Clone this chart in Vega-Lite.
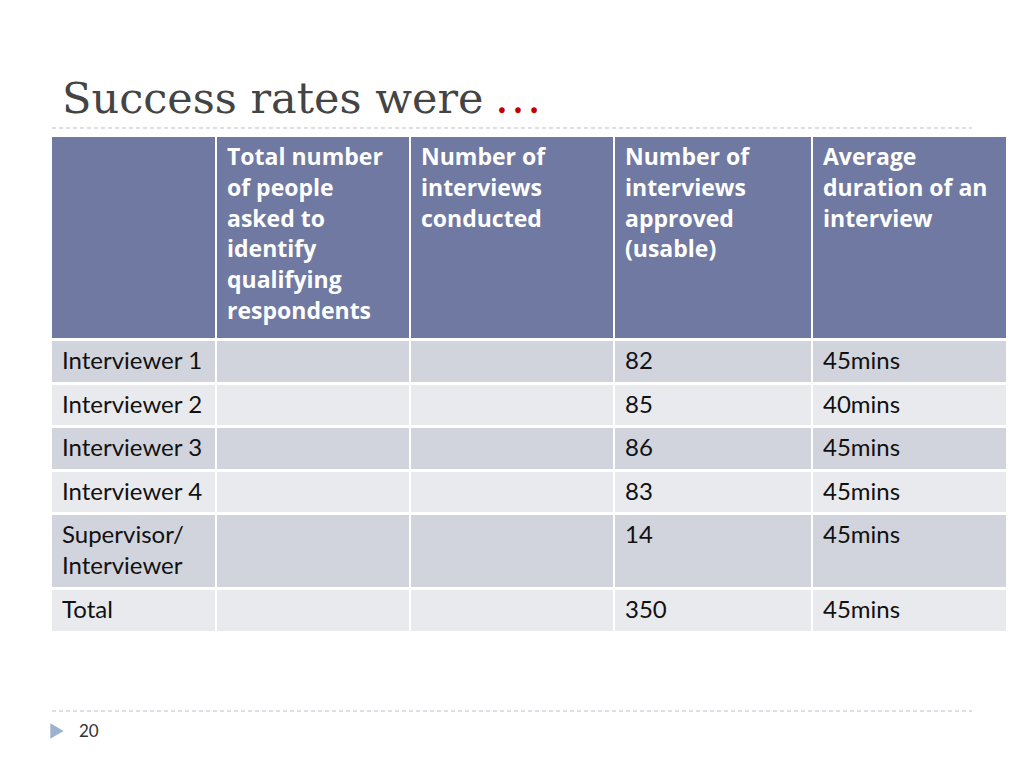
{
  "$schema": "https://vega.github.io/schema/vega-lite/v6.json",
  "width": 1024,
  "height": 768,
  "autosize": {"type": "fit", "contains": "padding"},
  "padding": 0,
  "background": "#ffffff",
  "config": {"view": {"stroke": null}},
  "datasets": {
    "columns": [
      {"col": "c0", "x0": 52, "x1": 215},
      {"col": "c1", "x0": 217, "x1": 409},
      {"col": "c2", "x0": 411, "x1": 613},
      {"col": "c3", "x0": 615, "x1": 811},
      {"col": "c4", "x0": 813, "x1": 1006}
    ],
    "rows": [
      {"row": "h", "y0": 137, "y1": 338, "band": "header"},
      {"row": "r1", "y0": 341, "y1": 382, "band": "odd"},
      {"row": "r2", "y0": 385, "y1": 425, "band": "even"},
      {"row": "r3", "y0": 428, "y1": 469, "band": "odd"},
      {"row": "r4", "y0": 472, "y1": 512, "band": "even"},
      {"row": "r5", "y0": 515, "y1": 587, "band": "odd"},
      {"row": "r6", "y0": 590, "y1": 631, "band": "even"}
    ],
    "cells": [
      {"row": "h", "col": "c0", "text": ""},
      {"row": "h", "col": "c1", "text": "Total number\nof people\nasked to\nidentify\nqualifying\nrespondents"},
      {"row": "h", "col": "c2", "text": "Number of\ninterviews\nconducted"},
      {"row": "h", "col": "c3", "text": "Number of\ninterviews\napproved\n(usable)"},
      {"row": "h", "col": "c4", "text": "Average\nduration of an\ninterview"},
      {"row": "r1", "col": "c0", "text": "Interviewer 1"},
      {"row": "r1", "col": "c1", "text": ""},
      {"row": "r1", "col": "c2", "text": ""},
      {"row": "r1", "col": "c3", "text": "82"},
      {"row": "r1", "col": "c4", "text": "45mins"},
      {"row": "r2", "col": "c0", "text": "Interviewer 2"},
      {"row": "r2", "col": "c1", "text": ""},
      {"row": "r2", "col": "c2", "text": ""},
      {"row": "r2", "col": "c3", "text": "85"},
      {"row": "r2", "col": "c4", "text": "40mins"},
      {"row": "r3", "col": "c0", "text": "Interviewer 3"},
      {"row": "r3", "col": "c1", "text": ""},
      {"row": "r3", "col": "c2", "text": ""},
      {"row": "r3", "col": "c3", "text": "86"},
      {"row": "r3", "col": "c4", "text": "45mins"},
      {"row": "r4", "col": "c0", "text": "Interviewer 4"},
      {"row": "r4", "col": "c1", "text": ""},
      {"row": "r4", "col": "c2", "text": ""},
      {"row": "r4", "col": "c3", "text": "83"},
      {"row": "r4", "col": "c4", "text": "45mins"},
      {"row": "r5", "col": "c0", "text": "Supervisor/\nInterviewer"},
      {"row": "r5", "col": "c1", "text": ""},
      {"row": "r5", "col": "c2", "text": ""},
      {"row": "r5", "col": "c3", "text": "14"},
      {"row": "r5", "col": "c4", "text": "45mins"},
      {"row": "r6", "col": "c0", "text": "Total"},
      {"row": "r6", "col": "c1", "text": ""},
      {"row": "r6", "col": "c2", "text": ""},
      {"row": "r6", "col": "c3", "text": "350"},
      {"row": "r6", "col": "c4", "text": "45mins"}
    ],
    "labels": [
      {"kind": "title", "text": "Success rates were", "x": 62, "y": 113},
      {"kind": "ellipsis", "text": "…", "x": 494, "y": 113},
      {"kind": "page", "text": "20", "x": 79, "y": 737}
    ],
    "rules": [
      {"x0": 52, "x1": 972, "y": 128},
      {"x0": 52, "x1": 972, "y": 711}
    ],
    "markers": [
      {"x": 57, "y": 731}
    ]
  },
  "resolve": {"scale": {"x": "shared", "y": "shared"}},
  "layer": [
    {
      "data": {"name": "rules"},
      "mark": {"type": "rule", "stroke": "#b9c0cc", "strokeWidth": 1, "strokeDash": [4, 3]},
      "encoding": {
        "x": {"field": "x0", "type": "quantitative", "scale": {"domain": [0, 1024], "nice": false, "zero": false}, "axis": null},
        "x2": {"field": "x1"},
        "y": {"field": "y", "type": "quantitative", "scale": {"domain": [0, 768], "nice": false, "zero": false, "reverse": true}, "axis": null}
      }
    },
    {
      "data": {"name": "cells"},
      "transform": [
        {"lookup": "col", "from": {"data": {"name": "columns"}, "key": "col", "fields": ["x0", "x1"]}},
        {"lookup": "row", "from": {"data": {"name": "rows"}, "key": "row", "fields": ["y0", "y1", "band"]}}
      ],
      "mark": {"type": "rect"},
      "encoding": {
        "x": {"field": "x0", "type": "quantitative", "axis": null},
        "x2": {"field": "x1"},
        "y": {"field": "y0", "type": "quantitative", "axis": null},
        "y2": {"field": "y1"},
        "color": {"field": "band", "type": "nominal", "legend": null, "scale": {"domain": ["header", "odd", "even"], "range": ["#6f79a2", "#d1d4dc", "#e9eaee"]}}
      }
    },
    {
      "data": {"name": "cells"},
      "transform": [
        {"filter": "datum.row === 'h' && datum.text !== ''"},
        {"lookup": "col", "from": {"data": {"name": "columns"}, "key": "col", "fields": ["x0", "x1"]}},
        {"lookup": "row", "from": {"data": {"name": "rows"}, "key": "row", "fields": ["y0", "y1", "band"]}}
      ],
      "mark": {"type": "text", "align": "left", "baseline": "top", "dx": 10, "dy": 10, "font": "Open Sans", "fontSize": 23, "fontWeight": "bold", "fill": "#ffffff", "lineHeight": 30.8, "lineBreak": "\n"},
      "encoding": {
        "x": {"field": "x0", "type": "quantitative"},
        "y": {"field": "y0", "type": "quantitative"},
        "text": {"field": "text"}
      }
    },
    {
      "data": {"name": "cells"},
      "transform": [
        {"filter": "datum.row !== 'h' && datum.text !== ''"},
        {"lookup": "col", "from": {"data": {"name": "columns"}, "key": "col", "fields": ["x0", "x1"]}},
        {"lookup": "row", "from": {"data": {"name": "rows"}, "key": "row", "fields": ["y0", "y1", "band"]}}
      ],
      "mark": {"type": "text", "align": "left", "baseline": "top", "dx": 10, "dy": 9, "font": "Lato", "fontSize": 24, "fill": "#111111", "lineHeight": 31, "lineBreak": "\n"},
      "encoding": {
        "x": {"field": "x0", "type": "quantitative"},
        "y": {"field": "y0", "type": "quantitative"},
        "text": {"field": "text"}
      }
    },
    {
      "data": {"name": "labels"},
      "transform": [{"filter": "datum.kind === 'title'"}],
      "mark": {"type": "text", "align": "left", "baseline": "alphabetic", "font": "DejaVu Serif", "fontSize": 43, "fill": "#444444"},
      "encoding": {
        "x": {"field": "x", "type": "quantitative"},
        "y": {"field": "y", "type": "quantitative"},
        "text": {"field": "text"}
      }
    },
    {
      "data": {"name": "labels"},
      "transform": [{"filter": "datum.kind === 'ellipsis'"}],
      "mark": {"type": "text", "align": "left", "baseline": "alphabetic", "font": "Liberation Serif", "fontSize": 48, "fill": "#c00000"},
      "encoding": {
        "x": {"field": "x", "type": "quantitative"},
        "y": {"field": "y", "type": "quantitative"},
        "text": {"field": "text"}
      }
    },
    {
      "data": {"name": "labels"},
      "transform": [{"filter": "datum.kind === 'page'"}],
      "mark": {"type": "text", "align": "left", "baseline": "alphabetic", "font": "Lato", "fontSize": 17, "fill": "#333333"},
      "encoding": {
        "x": {"field": "x", "type": "quantitative"},
        "y": {"field": "y", "type": "quantitative"},
        "text": {"field": "text"}
      }
    },
    {
      "data": {"name": "markers"},
      "mark": {"type": "point", "shape": "triangle-right", "filled": true, "fill": "#9cb2ce", "size": 240, "opacity": 1},
      "encoding": {
        "x": {"field": "x", "type": "quantitative"},
        "y": {"field": "y", "type": "quantitative"}
      }
    }
  ]
}
